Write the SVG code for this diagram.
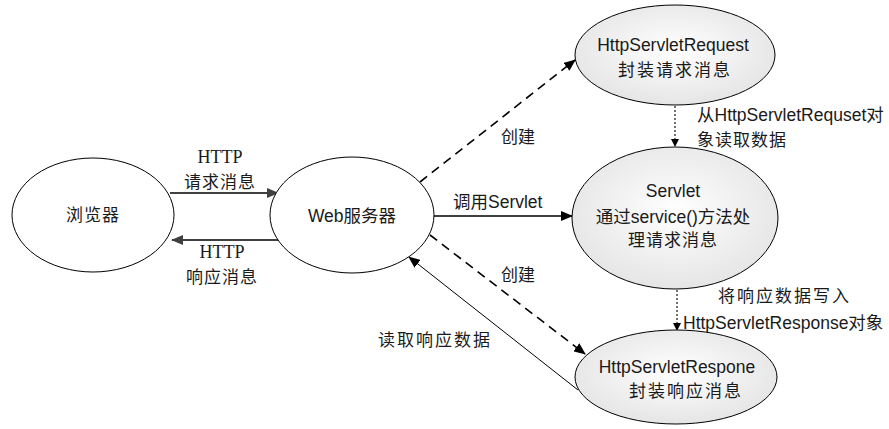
<svg xmlns="http://www.w3.org/2000/svg" width="889" height="429" viewBox="0 0 889 429">
<style>
.n{stroke:#000;stroke-width:1}
.w{fill:#fff}
.g{fill:url(#gr)}
.t{font-family:"Liberation Sans","Noto Sans CJK SC",sans-serif;font-size:17.5px;fill:#1a1a1a}
.c{font-family:"Noto Sans CJK SC",sans-serif;font-size:17px;fill:#1a1a1a}
.s{font-family:"Liberation Serif",serif;font-size:18px;fill:#1a1a1a}
.m{text-anchor:middle}
.k{fill:none;stroke:#000;stroke-width:1.3}
.d{stroke-dasharray:9,6;stroke-width:1.6}
.p{stroke-dasharray:2,2;stroke-width:1.1}
</style>
<defs>
<radialGradient id="gr" cx="0.5" cy="0.45" r="0.6">
<stop offset="0" stop-color="#ffffff"/>
<stop offset="1" stop-color="#e3e3e3"/>
</radialGradient>
<marker id="a" markerWidth="12" markerHeight="10" refX="11" refY="5" orient="auto" markerUnits="userSpaceOnUse"><path d="M0,0 L12,5 L0,10 z" fill="#000"/></marker>
<marker id="ag" markerWidth="12" markerHeight="10" refX="11" refY="5" orient="auto" markerUnits="userSpaceOnUse"><path d="M0,0 L12,5 L0,10 z" fill="#404040"/></marker>
<marker id="as" markerWidth="8" markerHeight="8" refX="7" refY="4" orient="auto" markerUnits="userSpaceOnUse"><path d="M0,0 L8,4 L0,8 z" fill="#000"/></marker>
</defs>
<g id="connectors">
<line x1="170" y1="193" x2="278" y2="193" class="k" style="stroke:#404040;stroke-width:1.8" marker-end="url(#ag)"/>
<line x1="278" y1="240" x2="172" y2="240" class="k" style="stroke:#404040;stroke-width:1.8" marker-end="url(#ag)"/>
<line x1="420" y1="182" x2="575" y2="60" class="k d" marker-end="url(#a)"/>
<line x1="433" y1="216" x2="572" y2="216" class="k" style="stroke-width:1.6" marker-end="url(#a)"/>
<line x1="430" y1="235" x2="585" y2="354" class="k d" marker-end="url(#a)"/>
<line x1="578" y1="390" x2="409" y2="257" class="k" style="stroke-width:1" marker-end="url(#a)"/>
<line x1="675" y1="106" x2="675" y2="146" class="k p" marker-end="url(#as)"/>
<line x1="677" y1="290" x2="677" y2="330" class="k p" marker-end="url(#as)"/>
<text x="220" y="163" class="s m">HTTP</text>
<text x="220" y="188" class="c m" letter-spacing="1">请求消息</text>
<text x="222" y="258" class="s m">HTTP</text>
<text x="222" y="283" class="c m" letter-spacing="1">响应消息</text>
<text x="518" y="143" class="c m">创建</text>
<text x="518" y="281" class="c m">创建</text>
<text x="453" y="208" class="t">调用Servlet</text>
<text x="697" y="121" class="t">从HttpServletRequset对</text>
<text x="697" y="146" class="c" letter-spacing="1">象读取数据</text>
<text x="718" y="302" class="c" letter-spacing="2">将响应数据写入</text>
<text x="683" y="329" class="t">HttpServletResponse对象</text>
<text x="378" y="346" class="c" letter-spacing="2">读取响应数据</text>
</g>
<g id="browser">
<ellipse cx="93" cy="215" rx="81" ry="57" class="n w"/>
<text x="93" y="221" class="c m" letter-spacing="1">浏览器</text>
</g>
<g id="webserver">
<ellipse cx="352" cy="215" rx="82" ry="58" class="n w"/>
<text x="352" y="222" class="t m">Web服务器</text>
</g>
<g id="request">
<ellipse cx="675" cy="55" rx="100" ry="50" class="n g"/>
<text x="673" y="51" class="t m">HttpServletRequest</text>
<text x="675" y="76" class="c m" letter-spacing="2">封装请求消息</text>
</g>
<g id="servlet">
<ellipse cx="675" cy="218" rx="103" ry="71" class="n g"/>
<text x="673" y="197" class="t m">Servlet</text>
<text x="673" y="223" class="t m">通过service()方法处</text>
<text x="673" y="246" class="c m" letter-spacing="1">理请求消息</text>
</g>
<g id="response">
<ellipse cx="676" cy="377" rx="101" ry="47" class="n g"/>
<text x="677" y="373" class="t m">HttpServletRespone</text>
<text x="686" y="397" class="c m" letter-spacing="2">封装响应消息</text>
</g>
</svg>
